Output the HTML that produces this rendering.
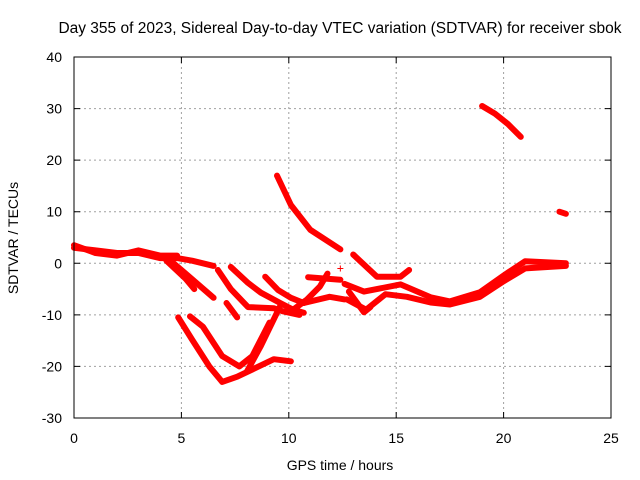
<!DOCTYPE html>
<html><head><meta charset="utf-8"><style>
body{margin:0;background:#fff;}
svg{display:block;font-family:"Liberation Sans",sans-serif;}
</style></head><body>
<svg id="chart" width="640" height="480">
<text x="340" y="33" font-size="15.5" text-anchor="middle">Day 355 of 2023, Sidereal Day-to-day VTEC variation (SDTVAR) for receiver sbok</text>
<text x="340" y="470" font-size="14" text-anchor="middle">GPS time / hours</text>
<text transform="translate(18,238) rotate(-90)" font-size="14" text-anchor="middle">SDTVAR / TECUs</text>
<g id="grid"></g><g id="series"></g>
<rect x="74" y="57" width="537" height="361" fill="none" stroke="#000" stroke-width="1"/>
</svg>
<script>
const xTicks=[0,5,10,15,20,25];
const yTicks=[-30,-20,-10,0,10,20,30,40];
const traceA=[[0,3],[1,2.5],[2,2],[3,2],[4,1],[4.8,1],[5.5,0.5],[6.5,-0.5]];
const traceA2=[[0,3.5],[1,2],[2,1.5],[3,2.5],[4,1.5],[4.8,1.5]];
const traceB=[[4.3,1.2],[5.2,-2],[6.5,-6.7]];
const traceC=[[4.3,0.5],[5.2,-3],[5.6,-5]];
const traceD=[[6.7,-1.3],[7.3,-5],[8.1,-8.5],[9.3,-8.7],[9.7,-9.3],[10.5,-10]];
const traceE=[[7.3,-0.7],[8.1,-3.8],[8.7,-5.7],[9.6,-7.7],[10.2,-9],[10.7,-9.6]];
const traceF=[[8.9,-2.6],[9.5,-5.2],[10.1,-6.7],[10.7,-7.7]];
const traceG=[[7.1,-7.7],[7.6,-10.5]];
const traceH=[[4.85,-10.5],[5.5,-14.8],[6.3,-20],[6.9,-23],[7.6,-22],[8.3,-20.6],[9.3,-18.6],[10.1,-19]];
const traceI=[[5.4,-10.3],[6,-12.3],[6.9,-18],[7.7,-20],[8.3,-18],[9.1,-11.5]];
const traceJ=[[8.05,-21],[8.7,-16],[9.6,-8.3]];
const traceK=[[9.45,17],[10.1,11.3],[11,6.5],[12.4,2.7]];
const traceL=[[10.2,-9],[10.85,-7],[11.45,-4.5],[11.8,-2]];
const traceM=[[10.9,-2.7],[12.4,-3.2]];
const traceN=[[10.7,-7.7],[11.9,-6.5],[12.6,-7]];
const traceO=[[13,1.7],[14.1,-2.6],[15.2,-2.6],[15.6,-1.3]];
const traceP=[[12.6,-4],[13.5,-5.5],[15.2,-4.1],[16.6,-6.6],[17.5,-7.4],[18.9,-5.6],[20.1,-2.1],[21,0.4],[22.9,0]];
const traceQ=[[12.7,-7],[13.6,-9],[14.5,-6],[15.5,-6.5],[16.6,-7.6],[17.5,-8],[18.9,-6.5],[20,-3.5],[21,-1],[22.9,-0.5]];
const traceR=[[12.8,-5.5],[13.5,-9.5],[13.8,-8.5]];
const traceS=[[19,30.5],[19.6,29],[20.2,27],[20.8,24.5]];
const traceT=[[22.6,10],[22.9,9.6]];
const traces=[traceA,traceA2,traceB,traceC,traceD,traceE,traceF,traceG,traceH,traceI,traceJ,traceK,traceL,traceM,traceN,traceO,traceP,traceQ,traceR,traceS,traceT];
const singles=[[12.4,-1]];
const NS="http://www.w3.org/2000/svg";
const X=v=>74+v*537/25, Y=v=>418-(v+30)*361/70;
const grid=document.getElementById('grid'), ser=document.getElementById('series');
xTicks.forEach(t=>{
 if(t>0&&t<25){const l=document.createElementNS(NS,'line');
 
 
 l.setAttribute('x1',X(t));l.setAttribute('x2',X(t));l.setAttribute('y1',57);l.setAttribute('y2',418);
 l.setAttribute('stroke','#a0a0a0');l.setAttribute('stroke-dasharray','2,3');grid.appendChild(l);}
 const k=document.createElementNS(NS,'path');
 
 
 k.setAttribute('d',`M${X(t)},418v-6M${X(t)},57v6`);k.setAttribute('stroke','#000');grid.appendChild(k);
 const tx=document.createElementNS(NS,'text');
 
 
 tx.setAttribute('x',X(t));tx.setAttribute('y',443);tx.setAttribute('font-size','14');tx.setAttribute('text-anchor','middle');tx.textContent=t;grid.appendChild(tx);
});
yTicks.forEach(t=>{
 if(t>-30&&t<40){const l=document.createElementNS(NS,'line');
 
 
 l.setAttribute('x1',74);l.setAttribute('x2',611);l.setAttribute('y1',Y(t));l.setAttribute('y2',Y(t));
 l.setAttribute('stroke','#a0a0a0');l.setAttribute('stroke-dasharray','2,3');grid.appendChild(l);}
 const k=document.createElementNS(NS,'path');
 
 
 k.setAttribute('d',`M74,${Y(t)}h6M611,${Y(t)}h-6`);k.setAttribute('stroke','#000');grid.appendChild(k);
 const tx=document.createElementNS(NS,'text');
 
 
 tx.setAttribute('x',62);tx.setAttribute('y',Y(t)+5);tx.setAttribute('font-size','14');tx.setAttribute('text-anchor','end');tx.textContent=t;grid.appendChild(tx);
});
traces.forEach(tr=>{
 const p=document.createElementNS(NS,'path');
 
 
 p.setAttribute('d','M'+tr.map(d=>X(d[0]).toFixed(1)+','+Y(d[1]).toFixed(1)).join(' L'));
 p.setAttribute('fill','none');p.setAttribute('stroke','#f00');p.setAttribute('stroke-width','6');
 p.setAttribute('stroke-linejoin','round');p.setAttribute('stroke-linecap','round');
 ser.appendChild(p);
});
singles.forEach(d=>{
 const p=document.createElementNS(NS,'path');
 
 
 p.setAttribute('d',`M${X(d[0])-3},${Y(d[1])}h6M${X(d[0])},${Y(d[1])-3}v6`);p.setAttribute('stroke','#f00');
 ser.appendChild(p);
});
</script>
</body></html>
